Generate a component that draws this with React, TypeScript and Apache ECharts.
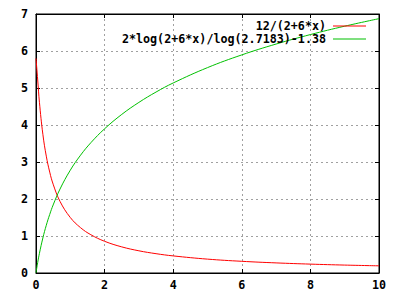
import React, { useEffect, useRef } from "react";
import * as echarts from "echarts";

const xs = [0, 0.05, 0.1, 0.2, 0.3, 0.4, 0.5, 0.7, 1, 1.3, 1.6, 2, 2.5, 3, 3.5, 4, 5, 6, 7, 8, 9, 10];
const redY = [5.8, 5.217, 4.615, 3.75, 3.158, 2.727, 2.4, 1.935, 1.5, 1.224, 1.034, 0.857, 0.706, 0.6, 0.522, 0.462, 0.375, 0.316, 0.273, 0.24, 0.214, 0.194];
const greenY = [0.006, 0.286, 0.531, 0.946, 1.29, 1.583, 1.839, 2.269, 2.779, 3.185, 3.522, 3.898, 4.286, 4.611, 4.891, 5.136, 5.551, 5.895, 6.188, 6.444, 6.671, 6.874];
const redName = "12/(2+6*x)";
const greenName = "2*log(2+6*x)/log(2.7183)-1.38";

const font = "'DejaVu Sans Mono', monospace";

export default function App() {
  const ref = useRef<HTMLDivElement>(null);
  useEffect(() => {
    const chart = echarts.init(ref.current!, null, { renderer: "svg" });
    const labelStyle = { color: "#000", fontFamily: font, fontWeight: "bold" as const, fontSize: 11.7 };
    const splitLine = { show: true, lineStyle: { color: "#a0a0a0", type: [2, 3], width: 1 } };
    const axisLine = { show: true, onZero: false, lineStyle: { color: "#000", width: 1 } };
    const axisTick = { show: true, inside: true, length: 4, lineStyle: { color: "#000" } };
    const legendCommon = {
      show: true,
      orient: "horizontal",
      right: 34,
      align: "right",
      itemWidth: 33,
      itemHeight: 1,
      icon: "rect",
      padding: 0,
      selectedMode: false,
      textStyle: { ...labelStyle, padding: [0, 2, 0, 0] },
    };
    chart.setOption({
      animation: false,
      backgroundColor: "#fff",
      grid: { left: 36, right: 21, top: 14, bottom: 27, show: true, borderColor: "#000", borderWidth: 1 },
      legend: [
        { ...legendCommon, data: [redName], top: 20 },
        { ...legendCommon, data: [greenName], top: 33 },
      ],
      xAxis: [
        {
          type: "value", min: 0, max: 10, interval: 2, position: "bottom",
          axisLine, axisTick, splitLine, axisLabel: { ...labelStyle, margin: 6 },
        },
        {
          type: "value", min: 0, max: 10, interval: 2, position: "top",
          axisLine, axisTick, splitLine: { show: false }, axisLabel: { show: false },
        },
      ],
      yAxis: [
        {
          type: "value", min: 0, max: 7, interval: 1, position: "left",
          axisLine, axisTick, splitLine, axisLabel: { ...labelStyle, margin: 8 },
        },
        {
          type: "value", min: 0, max: 7, interval: 1, position: "right",
          axisLine, axisTick, splitLine: { show: false }, axisLabel: { show: false },
        },
      ],
      series: [
        {
          name: redName, type: "line", data: xs.map((x, i) => [x, redY[i]]), smooth: 0.4,
          showSymbol: false, symbol: "none", lineStyle: { color: "#ff0000", width: 1 }, itemStyle: { color: "#ff0000" },
        },
        {
          name: greenName, type: "line", data: xs.map((x, i) => [x, greenY[i]]), smooth: 0.4,
          showSymbol: false, symbol: "none", lineStyle: { color: "#00c000", width: 1 }, itemStyle: { color: "#00c000" },
        },
      ],
    });
    return () => chart.dispose();
  }, []);
  return <div ref={ref} style={{ width: 400, height: 300, position: "absolute", left: 0, top: 0 }} />;
}
